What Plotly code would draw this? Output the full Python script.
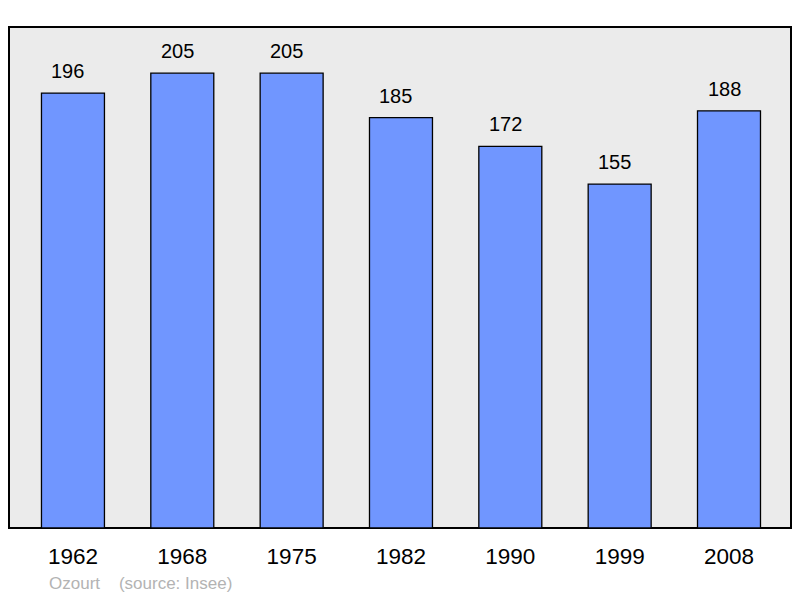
import plotly.graph_objects as go

years = ["1962", "1968", "1975", "1982", "1990", "1999", "2008"]
population = [196, 205, 205, 185, 172, 155, 188]
footer = "Ozourt    (source: Insee)"

idx = list(range(len(years)))

fig = go.Figure()
fig.add_trace(go.Bar(
    x=idx, y=population, width=0.576,
    marker=dict(color="#7096ff", line=dict(color="#000000", width=1.3)),
    hoverinfo="skip",
))
for i, v in zip(idx, population):
    fig.add_annotation(x=i, y=v, text=str(v), showarrow=False, yanchor="bottom",
                       yshift=9, xshift=-5,
                       font=dict(family="Liberation Sans, Arial", size=20, color="#000"))

fig.add_annotation(xref="paper", yref="paper", x=0.0485, y=-0.11, xanchor="left", yanchor="middle",
                   text=footer, showarrow=False,
                   font=dict(family="Liberation Sans, Arial", size=17, color="#b3b3b3"))

fig.add_shape(type="rect", xref="paper", yref="paper", x0=0, x1=1, y0=0, y1=1,
              fillcolor="#ebebeb", line=dict(color="#000000", width=2), layer="below")

fig.update_layout(
    width=800, height=598,
    margin=dict(l=9, r=9, t=27, b=70),
    paper_bgcolor="#ffffff", plot_bgcolor="rgba(0,0,0,0)",
    showlegend=False,
    xaxis=dict(range=[-0.585, 6.567], showgrid=False, zeroline=False,
               tickmode="array", tickvals=idx, ticktext=years,
               ticks="outside", ticklen=8, tickcolor="rgba(0,0,0,0)",
               tickfont=dict(family="Liberation Sans, Arial", size=22.5, color="#000")),
    yaxis=dict(range=[0, 225.8], showgrid=False, zeroline=False, showticklabels=False),
)
fig.write_html("out.html", config={"displayModeBar": False},
               post_script="document.body.style.margin='0';document.body.style.overflow='hidden';")
